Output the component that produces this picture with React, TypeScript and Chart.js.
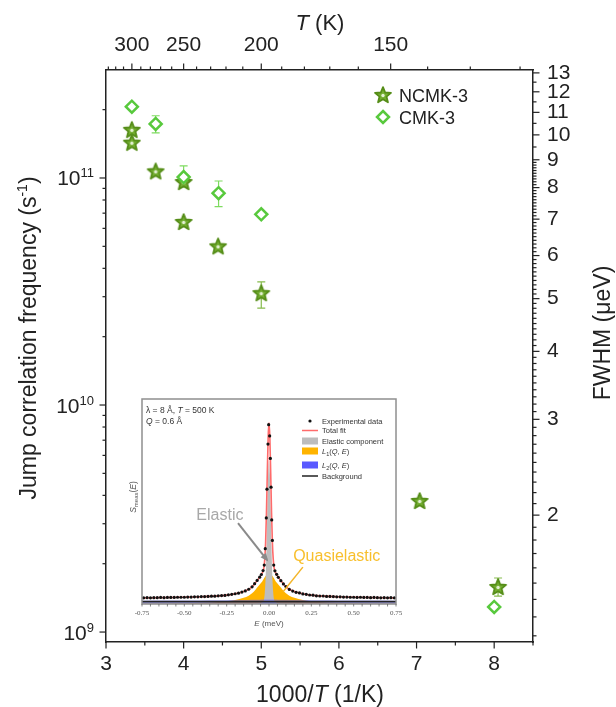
import React, { useEffect, useRef } from 'react';
import { Chart, registerables } from 'chart.js';
Chart.register(...registerables);

// ---------------- main chart data ----------------
const NCMK_X = [3.333, 3.333, 3.64, 4.0, 4.0, 4.444, 5.0, 7.04, 8.05];
const NCMK_Y = [1.63e11, 1.43e11, 1.07e11, 9.6e10, 6.4e10, 5.0e10, 3.11e10, 3.78e9, 1.58e9];
const NCMK_ERR_LO = [null, null, null, null, null, null, 2.67e10, null, 1.44e9];
const NCMK_ERR_HI = [null, null, null, null, null, null, 3.49e10, null, 1.73e9];

const CMK_X = [3.333, 3.64, 4.0, 4.45, 5.0, 8.0];
const CMK_Y = [2.06e11, 1.73e11, 1.01e11, 8.57e10, 6.92e10, 1.29e9];
const CMK_ERR_LO = [null, 1.58e11, 9.13e10, 7.48e10, null, null];
const CMK_ERR_HI = [null, 1.88e11, 1.13e11, 9.7e10, null, null];

const X_TICKS = [3, 4, 5, 6, 7, 8];
const X_MINOR = [3.5, 4.5, 5.5, 6.5, 7.5, 8.5];
const T_TICKS = [300, 250, 200, 150];
const T_MINOR = [330, 320, 310, 290, 280, 270, 260, 240, 230, 220, 210, 190, 180, 170, 160, 140, 130, 120];
const Y_EXPONENTS = [9, 10, 11];
const FWHM_TICKS = [2, 3, 4, 5, 6, 7, 8, 9, 10, 11, 12, 13];

const X_MIN = 3, X_MAX = 8.5;
const Y_MIN = 9.04e8, Y_MAX = 2.99e11;
const FW_MIN = 1.169, FW_MAX = 13.16;

// ---------------- inset data ----------------
const E_GRID = [-0.75, -0.6, -0.5, -0.4, -0.3, -0.25, -0.2, -0.15, -0.12, -0.1, -0.08, -0.06, -0.05, -0.04, -0.03, -0.025, -0.02, -0.015, -0.01, -0.005, 0, 0.005, 0.01, 0.015, 0.02, 0.025, 0.03, 0.04, 0.05, 0.06, 0.08, 0.1, 0.12, 0.15, 0.2, 0.25, 0.3, 0.4, 0.5, 0.6, 0.75];
const TOTAL_FIT = [0.030, 0.0315, 0.033, 0.0355, 0.0395, 0.0435, 0.05, 0.0615, 0.072, 0.0843, 0.1037, 0.125, 0.1372, 0.1514, 0.1776, 0.2187, 0.2998, 0.4449, 0.64, 0.813, 0.884, 0.813, 0.64, 0.4449, 0.2998, 0.2187, 0.1776, 0.1514, 0.1372, 0.125, 0.1037, 0.0843, 0.072, 0.0615, 0.05, 0.0435, 0.0395, 0.0355, 0.033, 0.0315, 0.030];
const ELASTIC = [0, 0, 0, 0, 0, 0, 0, 0, 0, 0, 0.001, 0.002, 0.004, 0.008, 0.02, 0.055, 0.13, 0.27, 0.46, 0.63, 0.70, 0.63, 0.46, 0.27, 0.13, 0.055, 0.02, 0.008, 0.004, 0.002, 0.001, 0, 0, 0, 0, 0, 0, 0, 0, 0, 0];
const L1 = [0.002, 0.003, 0.004, 0.006, 0.0095, 0.013, 0.019, 0.03, 0.04, 0.052, 0.07, 0.09, 0.1, 0.11, 0.124, 0.13, 0.136, 0.141, 0.146, 0.149, 0.15, 0.149, 0.146, 0.141, 0.136, 0.13, 0.124, 0.11, 0.1, 0.09, 0.07, 0.052, 0.04, 0.03, 0.019, 0.013, 0.0095, 0.006, 0.004, 0.003, 0.002];
const L2 = [0.016, 0.0165, 0.017, 0.0175, 0.018, 0.0185, 0.019, 0.0195, 0.02, 0.0203, 0.0207, 0.021, 0.0212, 0.0214, 0.0216, 0.0217, 0.0218, 0.0219, 0.022, 0.022, 0.022, 0.022, 0.022, 0.0219, 0.0218, 0.0217, 0.0216, 0.0214, 0.0212, 0.021, 0.0207, 0.0203, 0.02, 0.0195, 0.019, 0.0185, 0.018, 0.0175, 0.017, 0.0165, 0.016];
const BKG_E = [-0.75, 0.75];
const BKG_I = [0.012, 0.012];

const EXP_E = [
  -0.74, -0.72, -0.70, -0.68, -0.66, -0.64, -0.62, -0.60, -0.58, -0.56, -0.54, -0.52, -0.50, -0.48, -0.46, -0.44, -0.42, -0.40, -0.38, -0.36, -0.34, -0.32, -0.30, -0.28, -0.26, -0.24, -0.22, -0.20, -0.18, -0.16, -0.14, -0.12, -0.10,
  -0.085, -0.07, -0.055, -0.045, -0.035, -0.028, -0.022, -0.016, -0.012, -0.006, -0.002, 0.004, 0.008, 0.012, 0.016, 0.020, 0.028, 0.035, 0.045, 0.055, 0.07, 0.085,
  0.10, 0.12, 0.14, 0.16, 0.18, 0.20, 0.22, 0.24, 0.26, 0.28, 0.30, 0.32, 0.34, 0.36, 0.38, 0.40, 0.42, 0.44, 0.46, 0.48, 0.50, 0.52, 0.54, 0.56, 0.58, 0.60, 0.62, 0.64, 0.66, 0.68, 0.70, 0.72, 0.74];
const EXP_I = [
  0.030, 0.031, 0.030, 0.031, 0.031, 0.032, 0.031, 0.032, 0.032, 0.032, 0.033, 0.033, 0.033, 0.034, 0.034, 0.035, 0.035, 0.036, 0.036, 0.037, 0.038, 0.038, 0.040, 0.041, 0.042, 0.045, 0.047, 0.050, 0.053, 0.058, 0.064, 0.072, 0.084,
  0.099, 0.115, 0.131, 0.144, 0.163, 0.19, 0.27, 0.42, 0.56, 0.78, 0.875, 0.82, 0.71, 0.57, 0.41, 0.31, 0.19, 0.162, 0.145, 0.13, 0.114, 0.098,
  0.085, 0.071, 0.063, 0.057, 0.054, 0.049, 0.047, 0.044, 0.043, 0.040, 0.039, 0.039, 0.037, 0.037, 0.036, 0.035, 0.035, 0.034, 0.034, 0.033, 0.033, 0.032, 0.033, 0.032, 0.032, 0.031, 0.032, 0.031, 0.030, 0.031, 0.030, 0.031, 0.030];

const INSET_X_TICKS = [-0.75, -0.5, -0.25, 0, 0.25, 0.5, 0.75];
const INSET_X_LABELS = ['-0.75', '-0.50', '-0.25', '0.00', '0.25', '0.50', '0.75'];
const ELASTIC_TEXT = [-0.29, 0.44];
const ELASTIC_ARROW_E = [-0.183, -0.012];
const ELASTIC_ARROW_I = [0.395, 0.215];
const QUASI_TEXT = [0.40, 0.24];
const QUASI_LINE_E = [0.2, 0.083];
const QUASI_LINE_I = [0.18, 0.06];

// ---------------- styling ----------------
const AXIS = '#222';
const FONT = "'Liberation Sans', Arial, Helvetica, sans-serif";
const SERIF = "'Liberation Serif', 'Times New Roman', serif";
const STAR_FILL = '#74ae31';
const STAR_EDGE = '#558d18';
const DIAMOND = '#58c93d';

function makeStar() {
  const c = document.createElement('canvas');
  c.width = 22; c.height = 22;
  const g = c.getContext('2d')!;
  const cx = 11, cy = 11.5, R = 8.4, r = 3.7;
  g.beginPath();
  for (let i = 0; i < 10; i++) {
    const ang = -Math.PI / 2 + (i * Math.PI) / 5;
    const rad = i % 2 === 0 ? R : r;
    g.lineTo(cx + rad * Math.cos(ang), cy + rad * Math.sin(ang));
  }
  g.closePath();
  g.fillStyle = STAR_FILL; g.fill();
  g.lineWidth = 1.8; g.strokeStyle = STAR_EDGE; g.lineJoin = 'round'; g.stroke();
  g.beginPath(); g.arc(cx, cy, 1.7, 0, Math.PI * 2); g.fillStyle = '#e4f1d4'; g.fill();
  return c;
}

function drawRich(ctx: any, segs: any[], x: number, y: number, rot = 0, align = 'center') {
  ctx.save();
  ctx.translate(x, y);
  if (rot) ctx.rotate(rot);
  ctx.textAlign = 'left';
  ctx.textBaseline = 'alphabetic';
  const ws: number[] = [];
  let w = 0;
  for (const s of segs) { ctx.font = s[1]; const m = ctx.measureText(s[0]).width; ws.push(m); w += m; }
  let cx = align === 'right' ? -w : align === 'left' ? 0 : -w / 2;
  segs.forEach((s: any, i: number) => { ctx.font = s[1]; ctx.fillText(s[0], cx, s[2] || 0); cx += ws[i]; });
  ctx.restore();
}

function diamondPath(ctx: any, x: number, y: number, r: number) {
  ctx.beginPath();
  ctx.moveTo(x, y - r); ctx.lineTo(x + r, y); ctx.lineTo(x, y + r); ctx.lineTo(x - r, y); ctx.closePath();
}

const ERR_SETS = [
  { xs: NCMK_X, lo: NCMK_ERR_LO, hi: NCMK_ERR_HI, color: '#86bb4c' },
  { xs: CMK_X, lo: CMK_ERR_LO, hi: CMK_ERR_HI, color: '#7fdb60' },
];

const errorBars = {
  id: 'errorBars',
  beforeDatasetsDraw(chart: any) {
    const { ctx } = chart;
    const sx = chart.scales.x, sy = chart.scales.y;
    ctx.save();
    ctx.lineWidth = 1.2;
    ERR_SETS.forEach((set) => {
      ctx.strokeStyle = set.color;
      set.xs.forEach((xv, i) => {
        const lo = set.lo[i], hi = set.hi[i];
        if (lo == null || hi == null) return;
        const px = sx.getPixelForValue(xv);
        const p1 = sy.getPixelForValue(lo), p2 = sy.getPixelForValue(hi);
        ctx.beginPath();
        ctx.moveTo(px, p1); ctx.lineTo(px, p2);
        ctx.moveTo(px - 4, p1); ctx.lineTo(px + 4, p1);
        ctx.moveTo(px - 4, p2); ctx.lineTo(px + 4, p2);
        ctx.stroke();
      });
    });
    ctx.restore();
  },
};

function makeDecor(star: HTMLCanvasElement) {
  return {
    id: 'decor',
    afterDraw(chart: any) {
      const { ctx, chartArea: a } = chart;
      const sx = chart.scales.x, sy = chart.scales.y, sy2 = chart.scales.y2;
      const MAJ = 6.5, MIN = 3.5;
      ctx.save();
      ctx.strokeStyle = AXIS;
      ctx.lineWidth = 1.2;
      const seg = (x1: number, y1: number, x2: number, y2: number) => {
        ctx.beginPath(); ctx.moveTo(x1, y1); ctx.lineTo(x2, y2); ctx.stroke();
      };
      X_TICKS.forEach((v) => { const p = sx.getPixelForValue(v); seg(p, a.bottom, p, a.bottom + MAJ); });
      X_MINOR.forEach((v) => { const p = sx.getPixelForValue(v); seg(p, a.bottom, p, a.bottom + MIN); });
      T_TICKS.forEach((T) => { const p = sx.getPixelForValue(1000 / T); seg(p, a.top, p, a.top - MAJ); });
      T_MINOR.forEach((T) => { const p = sx.getPixelForValue(1000 / T); seg(p, a.top, p, a.top - MIN); });
      for (let e = 8; e <= 11; e++) {
        for (let k = 1; k <= 9; k++) {
          const v = k * Math.pow(10, e);
          if (v < Y_MIN || v > Y_MAX) continue;
          const p = sy.getPixelForValue(v);
          seg(a.left, p, a.left - (k === 1 ? MAJ : MIN), p);
        }
      }
      FWHM_TICKS.forEach((v) => { const p = sy2.getPixelForValue(v); seg(a.right, p, a.right + MAJ, p); });
      const minors: number[] = [];
      for (let i = 12; i < 90; i++) if (i % 10 !== 0) minors.push(i / 10);
      [9.5, 10.5, 11.5, 12.5].forEach((v) => minors.push(v));
      minors.forEach((v) => {
        if (v < FW_MIN || v > FW_MAX) return;
        const p = sy2.getPixelForValue(v); seg(a.right, p, a.right + MIN, p);
      });

      // left decade labels
      ctx.fillStyle = AXIS;
      Y_EXPONENTS.forEach((e) => {
        const p = sy.getPixelForValue(Math.pow(10, e));
        drawRich(ctx, [['10', `21px ${FONT}`], [String(e), `13px ${FONT}`, -8]], 94, p + 7.5, 0, 'right');
      });

      // axis titles
      drawRich(ctx, [['1000/', `23px ${FONT}`], ['T', `italic 23px ${FONT}`], [' (1/K)', `23px ${FONT}`]], 320, 702);
      drawRich(ctx, [['T', `italic 22px ${FONT}`], [' (K)', `22px ${FONT}`]], 320, 30);
      drawRich(ctx, [['Jump correlation frequency (s', `23px ${FONT}`], ['-1', `14px ${FONT}`, -9], [')', `23px ${FONT}`]], 36, 338, -Math.PI / 2);
      drawRich(ctx, [['FWHM (\u03bceV)', `23px ${FONT}`]], 610, 333, -Math.PI / 2);

      // legend
      ctx.drawImage(star, 383 - 11, 95 - 11);
      diamondPath(ctx, 383, 117, 6);
      ctx.fillStyle = '#fff'; ctx.fill();
      ctx.lineWidth = 2.5; ctx.strokeStyle = DIAMOND; ctx.stroke();
      ctx.fillStyle = AXIS;
      drawRich(ctx, [['NCMK-3', `18px ${FONT}`]], 399, 101.5, 0, 'left');
      drawRich(ctx, [['CMK-3', `18px ${FONT}`]], 399, 123.5, 0, 'left');
      ctx.restore();
    },
  };
}

function mainConfig(star: HTMLCanvasElement): any {
  const tickFont = { family: FONT, size: 21 };
  const border = { display: true, color: AXIS, width: 1.5 };
  return {
    type: 'scatter',
    data: {
      datasets: [
        {
          label: 'NCMK-3',
          data: NCMK_X.map((x, i) => ({ x, y: NCMK_Y[i] })),
          pointStyle: star,
          order: 2,
        },
        {
          label: 'CMK-3',
          data: CMK_X.map((x, i) => ({ x, y: CMK_Y[i] })),
          pointStyle: 'rectRot',
          pointRadius: 6,
          borderWidth: 2.5,
          borderColor: DIAMOND,
          backgroundColor: '#fff',
          order: 1,
        },
      ],
    },
    options: {
      animation: false,
      responsive: false,
      devicePixelRatio: 1,
      layout: { padding: 0 },
      plugins: { legend: { display: false }, tooltip: { enabled: false } },
      scales: {
        x: {
          type: 'linear', position: 'bottom', min: X_MIN, max: X_MAX,
          afterFit: (s: any) => { s.height = 65; },
          afterBuildTicks: (s: any) => { s.ticks = X_TICKS.map((v) => ({ value: v })); },
          grid: { display: false, drawTicks: false },
          border,
          ticks: { font: tickFont, color: AXIS, padding: 10, autoSkip: false, maxRotation: 0 },
        },
        x2: {
          type: 'linear', position: 'top', min: X_MIN, max: X_MAX,
          afterFit: (s: any) => { s.height = 70; },
          afterBuildTicks: (s: any) => { s.ticks = T_TICKS.map((T) => ({ value: 1000 / T })); },
          grid: { display: false, drawTicks: false },
          border,
          ticks: { font: tickFont, color: AXIS, padding: 12, autoSkip: false, maxRotation: 0, callback: (v: any) => String(Math.round(1000 / Number(v))) },
        },
        y: {
          type: 'logarithmic', position: 'left', min: Y_MIN, max: Y_MAX,
          afterFit: (s: any) => { s.width = 106; },
          grid: { display: false, drawTicks: false },
          border,
          ticks: { display: false },
        },
        y2: {
          type: 'logarithmic', position: 'right', min: FW_MIN, max: FW_MAX,
          afterFit: (s: any) => { s.width = 83; },
          afterBuildTicks: (s: any) => { s.ticks = FWHM_TICKS.map((v) => ({ value: v })); },
          grid: { display: false, drawTicks: false },
          border,
          ticks: { font: tickFont, color: AXIS, padding: 14, autoSkip: false, callback: (v: any) => String(v) },
        },
      },
    },
    plugins: [errorBars, makeDecor(star)],
  };
}

const insetDecor = {
  id: 'insetDecor',
  beforeDraw(chart: any) {
    const { ctx, width, height } = chart;
    ctx.save(); ctx.fillStyle = '#fff'; ctx.fillRect(0, 0, width, height); ctx.restore();
  },
  afterDraw(chart: any) {
    const { ctx, chartArea: a } = chart;
    const sx = chart.scales.x, sy = chart.scales.y;
    ctx.save();
    // frame
    ctx.strokeStyle = '#8f8f8f'; ctx.lineWidth = 1.5;
    ctx.strokeRect(a.left, a.top, a.right - a.left, a.bottom - a.top);
    // ticks
    ctx.strokeStyle = '#666'; ctx.lineWidth = 0.8;
    for (let i = 0; i <= 30; i++) {
      const p = sx.getPixelForValue(-0.75 + i * 0.05);
      ctx.beginPath(); ctx.moveTo(p, a.bottom); ctx.lineTo(p, a.bottom + 2.5); ctx.stroke();
    }
    ctx.fillStyle = '#555';
    INSET_X_TICKS.forEach((v, i) => {
      drawRich(ctx, [[INSET_X_LABELS[i], `7px ${SERIF}`]], sx.getPixelForValue(v), a.bottom + 10.5);
    });
    drawRich(ctx, [['E', `italic 8px ${FONT}`], [' (meV)', `8px ${FONT}`]], (a.left + a.right) / 2, a.bottom + 22);
    drawRich(ctx, [['S', `italic 8.5px ${FONT}`], ['meas', `6px ${FONT}`, 2], ['(', `8.5px ${FONT}`], ['E', `italic 8.5px ${FONT}`], [')', `8.5px ${FONT}`]], 18, 104, -Math.PI / 2);
    // top-left text
    ctx.fillStyle = '#333';
    drawRich(ctx, [['\u03bb = 8 \u00c5, ', `8.5px ${FONT}`], ['T', `italic 8.5px ${FONT}`], [' = 500 K', `8.5px ${FONT}`]], a.left + 4, a.top + 14, 0, 'left');
    drawRich(ctx, [['Q', `italic 8.5px ${FONT}`], [' = 0.6 \u00c5', `8.5px ${FONT}`]], a.left + 4, a.top + 25, 0, 'left');
    // legend
    const lx = a.left + 160, tx = a.left + 180;
    const rows = [22, 31.5, 42, 52, 66, 77].map((r) => a.top + r);
    ctx.fillStyle = '#111';
    ctx.beginPath(); ctx.arc(lx + 8, rows[0], 1.6, 0, Math.PI * 2); ctx.fill();
    ctx.strokeStyle = '#ff6b6b'; ctx.lineWidth = 1.5;
    ctx.beginPath(); ctx.moveTo(lx, rows[1]); ctx.lineTo(lx + 16, rows[1]); ctx.stroke();
    ctx.fillStyle = '#bdbdbd'; ctx.fillRect(lx, rows[2] - 3.5, 16, 7);
    ctx.fillStyle = '#ffb400'; ctx.fillRect(lx, rows[3] - 3.5, 16, 7);
    ctx.fillStyle = '#5a5aff'; ctx.fillRect(lx, rows[4] - 3.5, 16, 7);
    ctx.strokeStyle = '#222'; ctx.lineWidth = 1.5;
    ctx.beginPath(); ctx.moveTo(lx, rows[5]); ctx.lineTo(lx + 16, rows[5]); ctx.stroke();
    ctx.fillStyle = '#333';
    const lf = `7.5px ${FONT}`, lfi = `italic 7.5px ${FONT}`, lsub = `5.5px ${FONT}`;
    drawRich(ctx, [['Experimental data', lf]], tx, rows[0] + 2.7, 0, 'left');
    drawRich(ctx, [['Total fit', lf]], tx, rows[1] + 2.7, 0, 'left');
    drawRich(ctx, [['Elastic component', lf]], tx, rows[2] + 2.7, 0, 'left');
    drawRich(ctx, [['L', lfi], ['1', lsub, 2], ['(', lf], ['Q', lfi], [', ', lf], ['E', lfi], [')', lf]], tx, rows[3] + 2.7, 0, 'left');
    drawRich(ctx, [['L', lfi], ['2', lsub, 2], ['(', lf], ['Q', lfi], [', ', lf], ['E', lfi], [')', lf]], tx, rows[4] + 2.7, 0, 'left');
    drawRich(ctx, [['Background', lf]], tx, rows[5] + 2.7, 0, 'left');
    // annotations
    ctx.fillStyle = '#a8a8a8';
    drawRich(ctx, [['Elastic', `16px ${FONT}`]], sx.getPixelForValue(ELASTIC_TEXT[0]), sy.getPixelForValue(ELASTIC_TEXT[1]) + 6);
    const ax1 = sx.getPixelForValue(ELASTIC_ARROW_E[0]), ay1 = sy.getPixelForValue(ELASTIC_ARROW_I[0]);
    const ax2 = sx.getPixelForValue(ELASTIC_ARROW_E[1]), ay2 = sy.getPixelForValue(ELASTIC_ARROW_I[1]);
    ctx.strokeStyle = '#8a8a8a'; ctx.lineWidth = 2;
    ctx.beginPath(); ctx.moveTo(ax1, ay1); ctx.lineTo(ax2, ay2); ctx.stroke();
    const ang = Math.atan2(ay2 - ay1, ax2 - ax1);
    ctx.fillStyle = '#8a8a8a';
    ctx.beginPath();
    ctx.moveTo(ax2 + 2 * Math.cos(ang), ay2 + 2 * Math.sin(ang));
    ctx.lineTo(ax2 - 6 * Math.cos(ang) + 3.5 * Math.sin(ang), ay2 - 6 * Math.sin(ang) - 3.5 * Math.cos(ang));
    ctx.lineTo(ax2 - 6 * Math.cos(ang) - 3.5 * Math.sin(ang), ay2 - 6 * Math.sin(ang) + 3.5 * Math.cos(ang));
    ctx.closePath(); ctx.fill();
    ctx.fillStyle = '#f8bf2c';
    drawRich(ctx, [['Quasielastic', `16px ${FONT}`]], sx.getPixelForValue(QUASI_TEXT[0]), sy.getPixelForValue(QUASI_TEXT[1]) + 6);
    ctx.strokeStyle = '#f3b52a'; ctx.lineWidth = 1.5;
    ctx.beginPath();
    ctx.moveTo(sx.getPixelForValue(QUASI_LINE_E[0]), sy.getPixelForValue(QUASI_LINE_I[0]));
    ctx.lineTo(sx.getPixelForValue(QUASI_LINE_E[1]), sy.getPixelForValue(QUASI_LINE_I[1]));
    ctx.stroke();
    ctx.restore();
  },
};

function insetConfig(): any {
  const curve = (vals: number[]) => E_GRID.map((e, i) => ({ x: e, y: vals[i] }));
  return {
    type: 'line',
    data: {
      datasets: [
        { label: 'Experimental data', data: EXP_E.map((e, i) => ({ x: e, y: EXP_I[i] })), showLine: false, pointRadius: 1.6, pointBackgroundColor: '#111', pointBorderWidth: 0, order: 0 },
        { label: 'Total fit', data: curve(TOTAL_FIT), borderColor: '#ff6b6b', borderWidth: 1.6, pointRadius: 0, cubicInterpolationMode: 'monotone', fill: false, order: 1 },
        { label: 'Background', data: BKG_E.map((e, i) => ({ x: e, y: BKG_I[i] })), borderColor: '#222', borderWidth: 1.8, pointRadius: 0, fill: false, order: 2 },
        { label: 'L2(Q, E)', data: curve(L2), borderColor: 'transparent', borderWidth: 0, backgroundColor: 'rgba(110,110,255,0.55)', fill: 'origin', pointRadius: 0, cubicInterpolationMode: 'monotone', order: 3 },
        { label: 'Elastic component', data: curve(ELASTIC), borderColor: 'transparent', borderWidth: 0, backgroundColor: '#bdbdbd', fill: 'origin', pointRadius: 0, cubicInterpolationMode: 'monotone', order: 4 },
        { label: 'L1(Q, E)', data: curve(L1), borderColor: 'transparent', borderWidth: 0, backgroundColor: '#ffb400', fill: 'origin', pointRadius: 0, cubicInterpolationMode: 'monotone', order: 5 },
      ],
    },
    options: {
      animation: false,
      responsive: false,
      devicePixelRatio: 1,
      layout: { padding: { left: 24, top: 6, right: 7, bottom: 29 } },
      plugins: { legend: { display: false }, tooltip: { enabled: false } },
      scales: {
        x: { type: 'linear', display: false, min: -0.75, max: 0.75 },
        y: { type: 'linear', display: false, min: 0, max: 1 },
      },
    },
    plugins: [insetDecor],
  };
}

export default function App() {
  const mainRef = useRef<HTMLCanvasElement>(null);
  const insetRef = useRef<HTMLCanvasElement>(null);
  useEffect(() => {
    const star = makeStar();
    const main = new Chart(mainRef.current as HTMLCanvasElement, mainConfig(star));
    const inset = new Chart(insetRef.current as HTMLCanvasElement, insetConfig());
    return () => { main.destroy(); inset.destroy(); };
  }, []);
  return (
    <div style={{ position: 'absolute', left: 0, top: 0, width: 616, height: 707, background: '#fff' }}>
      <canvas ref={mainRef} width={616} height={707} style={{ position: 'absolute', left: 0, top: 0 }} />
      <canvas ref={insetRef} width={285} height={240} style={{ position: 'absolute', left: 118, top: 393 }} />
    </div>
  );
}
